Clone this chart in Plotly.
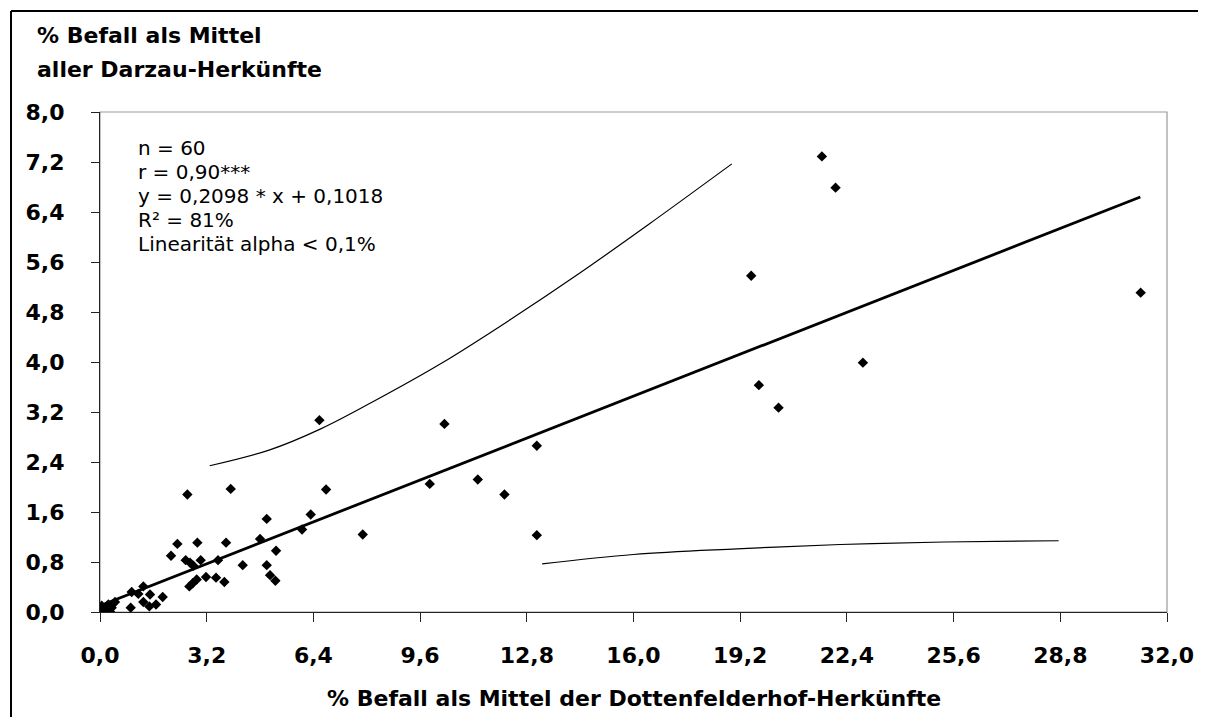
import plotly.graph_objects as go

# ---- data ----
dotten_x = [6.58, 6.78, 10.33, 7.88, 9.89, 11.33, 12.13, 13.10, 13.10, 21.65, 22.06, 19.53, 22.88, 19.76, 20.35, 31.21,
            2.62, 3.92, 5.00, 6.32, 6.06, 2.32, 2.92, 3.78, 4.80, 2.13, 2.57, 2.70, 2.80, 3.02, 3.54, 4.28, 5.28,
            5.00, 5.10, 5.26, 3.18, 3.48, 3.73, 2.68, 2.78, 2.90,
            0.45, 0.92, 0.95, 1.15, 1.30, 1.50, 1.30, 1.48, 1.68, 1.88,
            0.00, 0.10, 0.15, 0.20, 0.30, 0.35, 0.05, 0.25]
darzau_y = [3.07, 1.96, 3.01, 1.24, 2.05, 2.12, 1.88, 2.66, 1.23, 7.29, 6.79, 5.38, 3.99, 3.63, 3.27, 5.11,
            1.88, 1.97, 1.49, 1.56, 1.32, 1.09, 1.11, 1.11, 1.17, 0.90, 0.83, 0.79, 0.74, 0.83, 0.83, 0.75, 0.98,
            0.75, 0.59, 0.50, 0.56, 0.55, 0.48, 0.41, 0.46, 0.52,
            0.16, 0.07, 0.32, 0.29, 0.41, 0.28, 0.16, 0.09, 0.12, 0.24,
            0.04, 0.02, 0.00, 0.06, 0.01, 0.07, 0.10, 0.12]

fit_x = [0.0, 31.2]
fit_y = [0.10, 6.64]

upper_x = [3.29, 5.07, 6.62, 8.17, 10.24, 12.31, 14.38, 16.45, 18.95]
upper_y = [2.34, 2.59, 2.93, 3.36, 3.98, 4.68, 5.42, 6.20, 7.17]

lower_x = [13.26, 16.00, 19.10, 22.20, 25.32, 28.75]
lower_y = [0.77, 0.92, 1.01, 1.08, 1.12, 1.14]

x_ticks = [0.0, 3.2, 6.4, 9.6, 12.8, 16.0, 19.2, 22.4, 25.6, 28.8, 32.0]
y_ticks = [0.0, 0.8, 1.6, 2.4, 3.2, 4.0, 4.8, 5.6, 6.4, 7.2, 8.0]

y_title_lines = ["% Befall als Mittel", "aller Darzau-Herkünfte"]
x_title = "% Befall als Mittel der Dottenfelderhof-Herkünfte"
stats_lines = ["n = 60", "r = 0,90***", "y = 0,2098 * x + 0,1018", "R² = 81%", "Linearität alpha < 0,1%"]

# ---- layout geometry (page body has an 8px margin) ----
OFF = 8
W, H = 1192, 710
L, T = 100 - OFF, 112 - OFF
PW, PH = 1067, 500
R = W - L - PW
B = H - T - PH


def px_x(px):
    """window x pixel -> paper coordinate"""
    return (px - OFF - L) / PW


def px_y(py):
    """window y pixel -> paper coordinate"""
    return (T + PH - (py - OFF)) / PH


FONT = "DejaVu Sans"

fig = go.Figure()

fig.add_trace(go.Scatter(x=upper_x, y=upper_y, mode="lines", line=dict(color="black", width=1.2, shape="spline"),
                         hoverinfo="skip", showlegend=False))
fig.add_trace(go.Scatter(x=lower_x, y=lower_y, mode="lines", line=dict(color="black", width=1.2, shape="spline"),
                         hoverinfo="skip", showlegend=False))
fig.add_trace(go.Scatter(x=fit_x, y=fit_y, mode="lines", line=dict(color="black", width=2.8),
                         showlegend=False))
fig.add_trace(go.Scatter(x=dotten_x, y=darzau_y, mode="markers",
                         marker=dict(symbol="diamond", size=8, color="black"), showlegend=False))

axis_common = dict(showgrid=False, zeroline=False, showline=True, linecolor="#222", linewidth=1.2,
                   ticks="outside", tickcolor="#222", tickwidth=1,
                   tickfont=dict(family=FONT, size=22, color="black", weight="bold"),
                   tickformat=".1f")

fig.update_xaxes(range=[0, 32], tickvals=x_ticks, ticklen=9, ticklabelstandoff=14, **axis_common)
fig.update_yaxes(range=[0, 8], tickvals=y_ticks, ticklen=8, ticklabelstandoff=22, **axis_common)

shapes = [
    dict(type="rect", xref="paper", yref="paper", x0=0, y0=0, x1=1, y1=1,
         line=dict(color="#999", width=1.2), layer="below"),
    # outer black frame: left and top edges, kept inside the figure
    dict(type="line", xref="paper", yref="paper", x0=px_x(11), y0=px_y(11), x1=px_x(OFF + W - 2), y1=px_y(11),
         line=dict(color="black", width=2)),
    dict(type="line", xref="paper", yref="paper", x0=px_x(11), y0=px_y(11), x1=px_x(11), y1=px_y(OFF + H - 1),
         line=dict(color="black", width=2)),
]

annotations = [
    dict(text="<b>%s</b>" % y_title_lines[0], xref="paper", yref="paper", x=px_x(35), y=px_y(35),
         xanchor="left", yanchor="middle", showarrow=False, font=dict(family=FONT, size=22, color="black")),
    dict(text="<b>%s</b>" % y_title_lines[1], xref="paper", yref="paper", x=px_x(35), y=px_y(70),
         xanchor="left", yanchor="middle", showarrow=False, font=dict(family=FONT, size=22, color="black")),
    dict(text="<b>%s</b>" % x_title, xref="paper", yref="paper", x=0.5, y=px_y(698),
         xanchor="center", yanchor="middle", showarrow=False, font=dict(family=FONT, size=22, color="black")),
]
for i, line in enumerate(stats_lines):
    annotations.append(dict(text=line, xref="paper", yref="paper", x=px_x(136), y=px_y(148 + 24 * i),
                            xanchor="left", yanchor="middle", align="left", showarrow=False,
                            font=dict(family=FONT, size=20, color="black")))

fig.update_layout(width=W, height=H, margin=dict(l=L, r=R, t=T, b=B, autoexpand=False),
                  paper_bgcolor="white", plot_bgcolor="white", separators=",.",
                  shapes=shapes, annotations=annotations, showlegend=False)

fig.write_html("out.html")
